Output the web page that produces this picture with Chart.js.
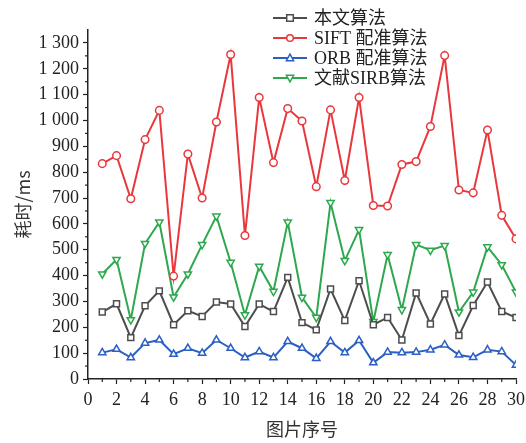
<!DOCTYPE html>
<html>
<head>
<meta charset="utf-8">
<script src="https://cdn.jsdelivr.net/npm/chart.js@4"></script>
<style>
  body { margin: 0; background: #fff; }
  #wrap { width: 526px; height: 443px; }
</style>
</head>
<body>
<div id="wrap"><canvas id="timeChart"></canvas></div>
<script>
// image index 1..30
const imageIds = [1,2,3,4,5,6,7,8,9,10,11,12,13,14,15,16,17,18,19,20,21,22,23,24,25,26,27,28,29,30];

const oursMs = [259,291,160,283,341,210,264,242,298,290,203,290,261,393,218,190,348,226,380,210,238,151,333,213,329,168,284,375,261,238];
const siftMs = [833,864,697,926,1039,398,870,700,994,1255,555,1089,837,1046,998,744,1041,768,1089,671,669,830,841,977,1251,731,720,963,633,542];
const orbMs  = [102,115,83,139,151,96,119,100,151,119,83,106,83,145,119,80,145,102,149,63,104,102,104,113,132,93,84,113,106,54];
const sirbMs = [406,462,229,524,607,317,406,520,630,451,248,436,339,607,316,238,682,458,578,222,481,268,520,498,516,259,336,511,442,336];

const seriesNames = ["本文算法", "SIFT 配准算法", "ORB 配准算法", "文献SIRB算法"];
const seriesColors = ["#4d4d4d", "#e8383d", "#2b5fc4", "#2ea84e"];
const seriesMarkers = ["rect", "circle", "triangle", "triangleDown"];

const yTickValues = [0,100,200,300,400,500,600,700,800,900,1000,1100,1200,1300];

function toPoints(vals) {
    return vals.map((v, i) => ({ x: imageIds[i], y: v }));
}

function fmtThousands(v) {
    if (v >= 1000) return Math.floor(v / 1000) + " " + String(v % 1000).padStart(3, "0");
    return String(v);
}

// draw one open marker
function marker(ctx, type, x, y, r, color) {
    ctx.save();
    ctx.strokeStyle = color;
    ctx.fillStyle = "#fff";
    ctx.lineWidth = 1.5;
    ctx.beginPath();
    if (type === "rect") {
        ctx.rect(x - r, y - r, r * 2, r * 2);
    } else if (type === "circle") {
        ctx.arc(x, y, r, 0, Math.PI * 2);
    } else if (type === "triangle") {
        ctx.moveTo(x, y - r * 1.2);
        ctx.lineTo(x + r * 1.1, y + r * 0.8);
        ctx.lineTo(x - r * 1.1, y + r * 0.8);
        ctx.closePath();
    } else {
        ctx.moveTo(x, y + r * 1.2);
        ctx.lineTo(x + r * 1.1, y - r * 0.8);
        ctx.lineTo(x - r * 1.1, y - r * 0.8);
        ctx.closePath();
    }
    ctx.fill();
    ctx.stroke();
    ctx.restore();
}

// legend box + minor ticks
const extrasPlugin = {
    id: "extras",
    afterDraw(chart) {
        const ctx = chart.ctx;
        const xs = chart.scales.x, ys = chart.scales.y;
        ctx.save();
        ctx.strokeStyle = "#222";
        ctx.lineWidth = 1.2;
        // minor x ticks
        for (let i = 1; i < 30; i += 2) {
            const px = xs.getPixelForValue(i);
            ctx.beginPath();
            ctx.moveTo(px, xs.top);
            ctx.lineTo(px, xs.top + 3);
            ctx.stroke();
        }
        // minor y ticks
        for (let v = 50; v < 1350; v += 100) {
            const py = ys.getPixelForValue(v);
            ctx.beginPath();
            ctx.moveTo(ys.right, py);
            ctx.lineTo(ys.right - 3, py);
            ctx.stroke();
        }
        ctx.restore();

        // legend
        const lx = 273, ly = 18, gap = 20;
        ctx.save();
        ctx.font = '18px "Liberation Serif", "Noto Sans CJK SC", serif';
        ctx.textBaseline = "middle";
        seriesNames.forEach((name, i) => {
            const y = ly + i * gap;
            ctx.strokeStyle = seriesColors[i];
            ctx.lineWidth = 2;
            ctx.beginPath();
            ctx.moveTo(lx, y);
            ctx.lineTo(lx + 34, y);
            ctx.stroke();
            marker(ctx, seriesMarkers[i], lx + 17, y, 3.3, seriesColors[i]);
            ctx.fillStyle = "#222";
            ctx.fillText(name, lx + 41, y + 1);
        });
        ctx.restore();
    }
};

function makeDataset(i, vals) {
    return {
        label: seriesNames[i],
        data: toPoints(vals),
        borderColor: seriesColors[i],
        backgroundColor: "#fff",
        borderWidth: 2,
        pointStyle: seriesMarkers[i] === "triangleDown" ? "triangle" : seriesMarkers[i],
        pointRotation: seriesMarkers[i] === "triangleDown" ? 180 : 0,
        pointRadius: seriesMarkers[i] === "circle" ? 3.8 : 4.2,
        pointBorderWidth: 1.5,
        pointBackgroundColor: "#fff",
        pointBorderColor: seriesColors[i],
        tension: 0
    };
}

new Chart(document.getElementById("timeChart"), {
    type: "line",
    data: {
        datasets: [
            makeDataset(0, oursMs),
            makeDataset(1, siftMs),
            makeDataset(2, orbMs),
            makeDataset(3, sirbMs)
        ]
    },
    options: {
        responsive: true,
        maintainAspectRatio: false,
        animation: false,
        layout: { padding: { top: 30, right: 1, left: 0, bottom: 0 } },
        plugins: {
            legend: { display: false },
            tooltip: { enabled: false }
        },
        scales: {
            x: {
                type: "linear",
                min: 0,
                max: 30,
                ticks: {
                    stepSize: 2,
                    color: "#222",
                    padding: 5,
                    maxRotation: 0,
                    autoSkip: false,
                    font: { family: "Liberation Serif", size: 18 }
                },
                grid: { drawOnChartArea: false, drawTicks: true, tickLength: 5, color: "#222", tickWidth: 1.2 },
                border: { display: true, color: "#222", width: 1.5 },
                title: {
                    display: true,
                    text: "图片序号",
                    color: "#333",
                    padding: { top: 2, bottom: 3 },
                    font: { family: "Noto Sans CJK SC", size: 18 }
                },
                afterFit(scale) {
                    scale.height = 64;
                    scale.paddingLeft = 0;
                    scale.paddingRight = 10;
                }
            },
            y: {
                min: 0,
                max: 1350,
                afterBuildTicks(scale) {
                    scale.ticks = yTickValues.map(v => ({ value: v }));
                },
                ticks: {
                    color: "#222",
                    padding: 4,
                    callback: v => fmtThousands(v),
                    font: { family: "Liberation Serif", size: 18 }
                },
                grid: { drawOnChartArea: false, drawTicks: true, tickLength: 5, color: "#222", tickWidth: 1.2 },
                border: { display: true, color: "#222", width: 1.5 },
                title: {
                    display: true,
                    text: "耗时/ms",
                    color: "#333",
                    padding: { top: 12, bottom: 6 },
                    font: { family: "Noto Sans CJK SC", size: 18 }
                },
                afterFit(scale) { scale.width = 88; }
            }
        }
    },
    plugins: [extrasPlugin]
});
</script>
</body>
</html>
